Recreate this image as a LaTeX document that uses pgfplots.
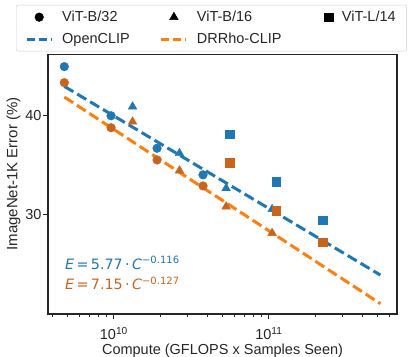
\documentclass[border=0pt]{standalone}
\usepackage{pgfplots}
\pgfplotsset{compat=1.18}
\usepackage{fontspec}
\setmainfont{Liberation Sans}
\newfontfamily\dejavu{DejaVu Sans}
\definecolor{cblue}{HTML}{1F77B4}
\definecolor{corange}{HTML}{FF7F0E}
\definecolor{cdark}{RGB}{200,100,30}
\definecolor{cax}{RGB}{38,38,38}
\newcommand{\fs}{\fontsize{14.5}{17}\selectfont}
\pgfplotsset{
  lineleg/.style={legend image code/.code={\draw[##1] (0pt,0pt) -- (25pt,0pt);}},
  markleg/.style={legend image code/.code={\draw[mark repeat=2,mark phase=2,##1] plot coordinates {(0pt,0pt) (12.5pt,0pt) (25pt,0pt)};}},
}
\begin{document}
\begin{tikzpicture}[font=\fs]
\begin{axis}[
  at={(48pt,42pt)}, anchor=south west,
  scale only axis, width=349pt, height=259.5pt,
  xmode=log, ymode=log,
  xmin=3.76e9, xmax=6.71e11, ymin=22.54, ymax=47.67,
  xtick={1e10,1e11}, xticklabels={10\textsuperscript{10},10\textsuperscript{11}},
  minor xtick={4e9,5e9,6e9,7e9,8e9,9e9,2e10,3e10,4e10,5e10,6e10,7e10,8e10,9e10,2e11,3e11,4e11,5e11,6e11},
  ytick={30,40}, yticklabels={30,40}, yminorticks=false,
  tick pos=left, tick align=outside,
  major tick length=5pt, minor tick length=3pt,
  every tick/.style={cax, line width=0.9pt},
  axis line style={line width=1.2pt, cax},
  ticklabel style={text=cax, font=\fs},
  xticklabel style={yshift=-5pt},
  yticklabel style={xshift=2pt},
  xlabel={Compute (GFLOPS x Samples Seen)},
  ylabel={ImageNet-1K Error (\%)},
  xlabel style={at={(axis description cs:0.5,-0.158)}, anchor=base, text=cax, font=\fs},
  ylabel style={at={(axis description cs:-0.0989,0.54)}, anchor=center, text=cax, font=\fontsize{15}{17}\selectfont},
  legend columns=3,
  legend cell align=left,
  legend style={at={(axis description cs:-0.0917,1.1908)}, anchor=north west,
    draw=black!20, fill=white, font=\fs, text=cax, rounded corners=2pt,
    inner xsep=9pt, inner ysep=4pt, row sep=6pt},
]
\addlegendimage{markleg, black, only marks, mark=*, mark size=4.35pt}
\addlegendentry{\hspace*{7pt}ViT-B/32\hspace*{28pt}}
\addlegendimage{markleg, black, only marks, mark=triangle*, mark size=5pt}
\addlegendentry{\hspace*{7pt}ViT-B/16\hspace*{41pt}}
\addlegendimage{markleg, black, only marks, mark=square*, mark size=4.2pt}
\addlegendentry{\hspace*{7pt}ViT-L/14}
\addlegendimage{lineleg, cblue, line width=3pt, dash pattern=on 8pt off 4pt}
\addlegendentry{\hspace*{7pt}OpenCLIP\hspace*{28pt}}
\addlegendimage{lineleg, corange, line width=3pt, dash pattern=on 8pt off 4pt}
\addlegendentry{\hspace*{7pt}DRRho-CLIP\hspace*{41pt}}
% fitted lines
\addplot[forget plot, cblue, line width=3pt, dash pattern=on 10.5pt off 4.5pt] coordinates {(4.79e9,43.48) (5.24e11,25.22)};
\addplot[forget plot, corange, line width=3pt, dash pattern=on 10.5pt off 4.5pt] coordinates {(4.79e9,42.16) (5.24e11,23.22)};
% ViT-B/32
\addplot[forget plot, only marks, mark=*, mark size=4.35pt, cblue] coordinates {(4.79e9,46.03) (9.59e9,39.95) (1.90e10,36.37) (3.76e10,33.68)};
\addplot[forget plot, only marks, mark=*, mark size=4.35pt, cdark] coordinates {(4.79e9,43.95) (9.59e9,38.59) (1.90e10,35.16) (3.76e10,32.62)};
% ViT-B/16
\addplot[forget plot, only marks, mark=triangle*, mark size=5pt, cblue] coordinates {(1.32e10,41.00) (2.65e10,35.85) (5.30e10,32.40) (1.049e11,30.50)};
\addplot[forget plot, only marks, mark=triangle*, mark size=5pt, cdark] coordinates {(1.32e10,39.27) (2.65e10,34.10) (5.30e10,30.73) (1.049e11,28.47)};
% ViT-L/14
\addplot[forget plot, only marks, mark=square*, mark size=4.2pt, cblue] coordinates {(5.59e10,37.90) (1.118e11,33.03) (2.225e11,29.57)};
\addplot[forget plot, only marks, mark=square*, mark size=4.2pt, cdark] coordinates {(5.59e10,34.89) (1.118e11,30.38) (2.225e11,27.74)};
\node[anchor=west, text=cblue, font=\dejavu\fontsize{14.3}{16}\selectfont] at (axis description cs:0.039,0.1965) {\textit{E}\,=\,5.77\,·\,\textit{C}\textsuperscript{−0.116}};
\node[anchor=west, text=cdark, font=\dejavu\fontsize{14.3}{16}\selectfont] at (axis description cs:0.039,0.1175) {\textit{E}\,=\,7.15\,·\,\textit{C}\textsuperscript{−0.127}};
\end{axis}
\pgfresetboundingbox
\useasboundingbox (0,0) rectangle (411pt,356pt);
\end{tikzpicture}
\end{document}
